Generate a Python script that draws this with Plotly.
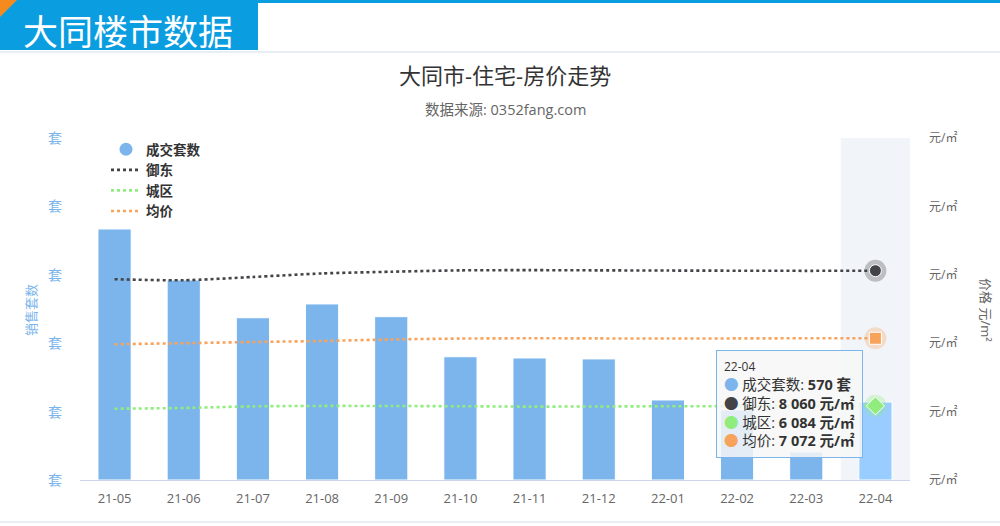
import plotly.graph_objects as go

# ---------------- data ----------------
months = ["21-05", "21-06", "21-07", "21-08", "21-09", "21-10",
          "21-11", "21-12", "22-01", "22-02", "22-03", "22-04"]
sales = [1835, 1462, 1186, 1287, 1194, 901, 892, 885, 585, 512, 205, 570]
yudong = [7935, 7920, 7968, 8020, 8045, 8065, 8068, 8065, 8062, 8060, 8058, 8060]
chengqu = [6042, 6053, 6077, 6083, 6082, 6078, 6073, 6075, 6078, 6080, 6082, 6084]
junjia = [6985, 7000, 7018, 7032, 7055, 7068, 7072, 7070, 7068, 7070, 7072, 7072]

left_ticks = [0, 500, 1000, 1500, 2000, 2500]
right_ticks = [5000, 6000, 7000, 8000, 9000, 10000]
left_unit = "套"
right_unit = "元/㎡"

C_BAR = "#7cb5ec"
C_BAR_HI = "#99ccff"
C_YD = "#434348"
C_CQ = "#90ed7d"
C_JJ = "#f7a35c"
FONT = "Open Sans, Noto Sans CJK SC"
CJK = "Noto Sans CJK SC"

fig = go.Figure()

bar_colors = [C_BAR] * (len(months) - 1) + [C_BAR_HI]
fig.add_trace(go.Bar(x=months, y=sales, marker=dict(color=bar_colors, line=dict(color="white", width=1)),
                     name="成交套数", showlegend=False, yaxis="y"))
# legend proxy for bars (round symbol)
fig.add_trace(go.Scatter(x=[None], y=[None], mode="markers", name="成交套数",
                         marker=dict(color=C_BAR, size=13, symbol="circle"), yaxis="y"))

for name, vals, col in [("御东", yudong, C_YD), ("城区", chengqu, C_CQ), ("均价", junjia, C_JJ)]:
    fig.add_trace(go.Scatter(x=months, y=vals, mode="lines", name=name, yaxis="y2",
                             line=dict(color=col, width=2.6, dash="dot", shape="spline", smoothing=0.6)))

# hover markers on the last point
for vals, col, sym in [(yudong, C_YD, "circle"), (junjia, C_JJ, "square"), (chengqu, C_CQ, "diamond")]:
    fig.add_trace(go.Scatter(x=[months[-1]], y=[vals[-1]], mode="markers", showlegend=False, yaxis="y2",
                             marker=dict(color=col, size=22, opacity=0.3, symbol="circle")))
    fig.add_trace(go.Scatter(x=[months[-1]], y=[vals[-1]], mode="markers", showlegend=False, yaxis="y2",
                             marker=dict(color=col, size=12 if sym != "diamond" else 14, symbol=sym,
                                         line=dict(color="white", width=1))))

# hover band
n = len(months)
fig.add_shape(type="rect", xref="x", yref="paper", x0=n - 1.5, x1=n - 0.5, y0=0, y1=1,
              fillcolor="rgba(204,214,235,0.28)", line_width=0, layer="below")

# ---------- header decoration ----------
PX = lambda x: (x - 80) / 830
PY = lambda y: (480 - y) / 342
fig.add_shape(type="rect", xref="paper", yref="paper", x0=PX(0), x1=PX(1000),
              y0=PY(3), y1=PY(0), fillcolor="#0a9de0", line_width=0)
fig.add_shape(type="rect", xref="paper", yref="paper", x0=PX(0), x1=PX(258),
              y0=PY(50), y1=PY(2), fillcolor="#0a9de0", line_width=0)
fig.add_shape(type="path", xref="paper", yref="paper",
              path=f"M {PX(0)} {PY(0)} L {PX(17)} {PY(0)} L {PX(0)} {PY(17)} Z",
              fillcolor="#f58a1f", line_width=0)
fig.add_shape(type="line", xref="paper", yref="paper", x0=PX(0), x1=PX(1000),
              y0=PY(52), y1=PY(52), line=dict(color="#dfe9f2", width=1.5))
fig.add_shape(type="line", xref="paper", yref="paper", x0=PX(0), x1=PX(1000),
              y0=PY(522), y1=PY(522), line=dict(color="#dfe9f2", width=1.5))
fig.add_annotation(xref="paper", yref="paper", x=PX(21), y=PY(29), xanchor="left", yanchor="middle",
                   text="大同楼市数据", showarrow=False, font=dict(family=CJK, size=35, color="white"))

# titles
fig.add_annotation(xref="paper", yref="paper", x=PX(505), y=PY(75), xanchor="center", yanchor="middle",
                   text="大同市-住宅-房价走势", showarrow=False, font=dict(family=FONT, size=22, color="#333333"))
fig.add_annotation(xref="paper", yref="paper", x=PX(505), y=PY(110), xanchor="center", yanchor="middle",
                   text="数据来源: 0352fang.com", showarrow=False, font=dict(family=FONT, size=14.5, color="#666666"))

# axis titles
fig.add_annotation(xref="paper", yref="paper", x=PX(30), y=PY(310), xanchor="center", yanchor="middle",
                   text="销售套数", textangle=-90, showarrow=False, font=dict(family=CJK, size=13, color=C_BAR))
fig.add_annotation(xref="paper", yref="paper", x=PX(986), y=PY(310), xanchor="center", yanchor="middle",
                   text="价格 元/m²", textangle=90, showarrow=False, font=dict(family=FONT, size=13, color="#666666"))

# tooltip
def fmt(v):
    return f"{v:,}".replace(",", " ")

tip = (f"<span style='font-size:12px'>{months[-1]}</span><br>"
       f"<span style='color:{C_BAR}'>●</span> 成交套数: <b>{fmt(sales[-1])} 套</b><br>"
       f"<span style='color:{C_YD}'>●</span> 御东: <b>{fmt(yudong[-1])} 元/㎡</b><br>"
       f"<span style='color:{C_CQ}'>●</span> 城区: <b>{fmt(chengqu[-1])} 元/㎡</b><br>"
       f"<span style='color:{C_JJ}'>●</span> 均价: <b>{fmt(junjia[-1])} 元/㎡</b>")
fig.add_annotation(xref="paper", yref="paper", x=PX(716), y=PY(350), xanchor="left", yanchor="top",
                   text=tip, align="left", showarrow=False, bgcolor="rgba(247,247,247,0.85)",
                   bordercolor=C_BAR, borderwidth=1, borderpad=7,
                   font=dict(family=FONT, size=14.5, color="#333333"))

fig.update_layout(
    width=1000, height=526,
    margin=dict(l=80, r=90, t=138, b=46),
    paper_bgcolor="white", plot_bgcolor="white",
    font=dict(family=FONT, color="#666666"),
    bargap=0.52,
    showlegend=True,
    legend=dict(x=PX(106), y=PY(134), xanchor="left", yanchor="top",
                bgcolor="rgba(0,0,0,0)", font=dict(family=FONT, size=13.5, color="#333333", weight="bold"),
                tracegroupgap=0, itemwidth=30),
    xaxis=dict(type="category", range=[-0.5, n - 0.5], showgrid=False, showline=True,
               linecolor="#ccd6eb", linewidth=1, ticks="", tickfont=dict(size=13, color="#666666"),
               ticklabelstandoff=6, zeroline=False),
    yaxis=dict(range=[left_ticks[0], left_ticks[-1]], tickvals=left_ticks, ticktext=[left_unit] * len(left_ticks),
               showgrid=False, zeroline=False, showline=False, tickangle=0,
               tickfont=dict(family=CJK, size=14, color=C_BAR), ticklabelstandoff=17),
    yaxis2=dict(range=[right_ticks[0], right_ticks[-1]], tickvals=right_ticks, ticktext=[right_unit] * len(right_ticks),
                overlaying="y", side="right", showgrid=False, zeroline=False, showline=False, tickangle=0,
                tickfont=dict(size=12, color="#666666"), ticklabelstandoff=18),
    hovermode=False,
)

fig.write_html("out.html", config={"displayModeBar": False},
               post_script="document.body.style.margin='0';document.body.style.padding='0';")
